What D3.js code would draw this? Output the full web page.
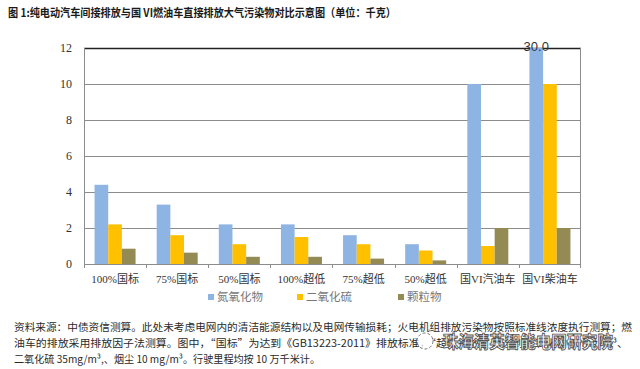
<!DOCTYPE html>
<html>
<head>
<meta charset="utf-8">
<script src="https://cdn.jsdelivr.net/npm/d3@7"></script>
<style>
  body { margin: 0; background: #fff; }
  svg { display: block; }
</style>
</head>
<body>
<svg width="640" height="369"></svg>
<script>
// categories and values (kg)
const categories = ["100%国标", "75%国标", "50%国标", "100%超低", "75%超低", "50%超低", "国VI汽油车", "国VI柴油车"];
const seriesNames = ["氮氧化物", "二氧化硫", "颗粒物"];
const nox = [4.4, 3.3, 2.2, 2.2, 1.6, 1.1, 10, 30];
const so2 = [2.2, 1.6, 1.1, 1.5, 1.1, 0.75, 1.0, 10];
const pm = [0.85, 0.63, 0.4, 0.4, 0.3, 0.2, 2.0, 2.0];
const yTicks = [0, 2, 4, 6, 8, 10, 12];
const colors = ["#8eb4e3", "#ffc000", "#948a54"];

const title = "图 1:纯电动汽车间接排放与国 VI燃油车直接排放大气污染物对比示意图（单位：千克）";
const notes = [
  "资料来源：中债资信测算。此处未考虑电网内的清洁能源结构以及电网传输损耗；火电机组排放污染物按照标准线浓度执行测算；燃",
  "油车的排放采用排放因子法测算。图中，“国标”为达到《GB13223-2011》排放标准，“超低排放”为达到氮氧化物 50mg/m³、",
  "二氧化硫 35mg/m³,、烟尘 10 mg/m³。行驶里程均按 10 万千米计。"
];

const svg = d3.select("svg");
const margin = { left: 84, right: 59, top: 48, bottom: 105 };
const width = +svg.attr("width");
const height = +svg.attr("height");
const plotW = width - margin.left - margin.right;
const plotH = height - margin.top - margin.bottom;

const serif = "'Liberation Serif', 'Noto Sans CJK SC', serif";
const cjk = "'Noto Sans CJK SC', sans-serif";

const x0 = d3.scaleBand().domain(categories).range([0, plotW]).paddingInner(0.34).paddingOuter(0.17);
const x1 = d3.scaleBand().domain(seriesNames).range([0, x0.bandwidth()]);
const y = d3.scaleLinear().domain([0, 12]).range([plotH, 0]);

const rows = categories.map(function(c, i) {
  return { cat: c, vals: [nox[i], so2[i], pm[i]] };
});

// title
svg.append("text")
  .attr("x", 8).attr("y", 17)
  .attr("font-family", cjk).attr("font-weight", "bold").attr("font-size", 11.5)
  .attr("fill", "#1a1a1a")
  .attr("textLength", 388).attr("lengthAdjust", "spacingAndGlyphs")
  .text(title);

const g = svg.append("g").attr("transform", "translate(" + margin.left + "," + margin.top + ")");

// gridlines
g.selectAll(".grid")
  .data(yTicks)
  .enter()
  .append("line")
  .attr("x1", 0).attr("x2", plotW)
  .attr("y1", function(d) { return Math.round(y(d)) + 0.5; })
  .attr("y2", function(d) { return Math.round(y(d)) + 0.5; })
  .attr("stroke", function(d) { return d === 12 ? "#222" : "#8c8c8c"; })
  .attr("stroke-width", function(d) { return d === 12 ? 1.3 : 1; });

// y axis labels
g.selectAll(".ylab")
  .data(yTicks)
  .enter()
  .append("text")
  .attr("x", -12)
  .attr("y", function(d) { return y(d) + 4; })
  .attr("text-anchor", "end")
  .attr("font-family", serif).attr("font-size", 12).attr("fill", "#333")
  .text(function(d) { return d; });

// clip so the 30.0 bar stops at the top
svg.append("clipPath").attr("id", "plotclip")
  .append("rect").attr("x", 0).attr("y", 0).attr("width", plotW).attr("height", plotH);

const groups = g.append("g").attr("clip-path", "url(#plotclip)")
  .selectAll(".grp")
  .data(rows)
  .enter()
  .append("g")
  .attr("transform", function(d) { return "translate(" + x0(d.cat) + ",0)"; });

groups.selectAll("rect")
  .data(function(d) { return d.vals.map(function(v, i) { return { s: seriesNames[i], v: v, i: i }; }); })
  .enter()
  .append("rect")
  .attr("x", function(d) { return x1(d.s); })
  .attr("width", x1.bandwidth())
  .attr("y", function(d) { return y(Math.min(d.v, 12.2)); })
  .attr("height", function(d) { return plotH - y(Math.min(d.v, 12.2)); })
  .attr("fill", function(d) { return colors[d.i]; });

// label for the clipped bar
rows.forEach(function(r) {
  if (r.vals[0] > 12) {
    g.append("text")
      .attr("x", x0(r.cat) + x1(seriesNames[0]) + x1.bandwidth() / 2)
      .attr("y", y(12) + 3)
      .attr("text-anchor", "middle")
      .attr("font-family", "'Liberation Sans', Arial, sans-serif").attr("font-size", 13)
      .attr("fill", "#333")
      .text(r.vals[0].toFixed(1));
  }
});

// axis lines and border
g.append("line").attr("x1", 0.5).attr("x2", 0.5).attr("y1", 0).attr("y2", plotH + 4).attr("stroke", "#8c8c8c");
g.append("line").attr("x1", plotW - 0.5).attr("x2", plotW - 0.5).attr("y1", 0).attr("y2", plotH + 4).attr("stroke", "#8c8c8c");
g.append("line").attr("x1", 0).attr("x2", plotW).attr("y1", plotH + 0.5).attr("y2", plotH + 0.5).attr("stroke", "#8c8c8c");

// category ticks
g.selectAll(".xtick")
  .data(categories.slice(1))
  .enter()
  .append("line")
  .attr("x1", function(d) { return Math.round(x0(d) - x0.step() * x0.paddingInner() / 2) + 0.5; })
  .attr("x2", function(d) { return Math.round(x0(d) - x0.step() * x0.paddingInner() / 2) + 0.5; })
  .attr("y1", plotH).attr("y2", plotH + 4)
  .attr("stroke", "#8c8c8c");

// category labels
g.selectAll(".xlab")
  .data(categories)
  .enter()
  .append("text")
  .attr("x", function(d) { return x0(d) + x0.bandwidth() / 2; })
  .attr("y", plotH + 19)
  .attr("text-anchor", "middle")
  .attr("font-family", serif).attr("font-size", 11).attr("fill", "#333")
  .text(function(d) { return d; });

// legend
const legendX = [208, 297, 398];
const legend = svg.selectAll(".leg")
  .data(seriesNames)
  .enter()
  .append("g")
  .attr("transform", function(d, i) { return "translate(" + legendX[i] + ",297)"; });
legend.append("rect").attr("x", 0).attr("y", -3).attr("width", 6).attr("height", 6)
  .attr("fill", function(d, i) { return colors[i]; });
legend.append("text").attr("x", 9).attr("y", 4)
  .attr("font-family", serif).attr("font-size", 11.5).attr("fill", "#777")
  .text(function(d) { return d; });

// footnote
const noteLen = [618, 614, 306];
svg.selectAll(".note")
  .data(notes)
  .enter()
  .append("text")
  .attr("x", 14)
  .attr("y", function(d, i) { return 331 + i * 16; })
  .attr("font-family", cjk).attr("font-size", 10.5).attr("fill", "#2a2a2a")
  .attr("textLength", function(d, i) { return noteLen[i]; })
  .attr("lengthAdjust", "spacingAndGlyphs")
  .text(function(d) { return d; });

// watermark
const wm = svg.append("g").attr("transform", "translate(425,341)");
wm.append("circle").attr("r", 8).attr("fill", "#fff").attr("fill-opacity", 0.8)
  .attr("stroke", "#777").attr("stroke-dasharray", "3,2");
wm.append("text")
  .attr("x", 18).attr("y", 7)
  .attr("font-family", cjk).attr("font-size", 17).attr("font-weight", "bold")
  .attr("fill", "#fff").attr("stroke", "#555").attr("stroke-width", 0.9)
  .attr("textLength", 170).attr("lengthAdjust", "spacingAndGlyphs")
  .text("珠海清英智能电网研究院");
</script>
</body>
</html>
